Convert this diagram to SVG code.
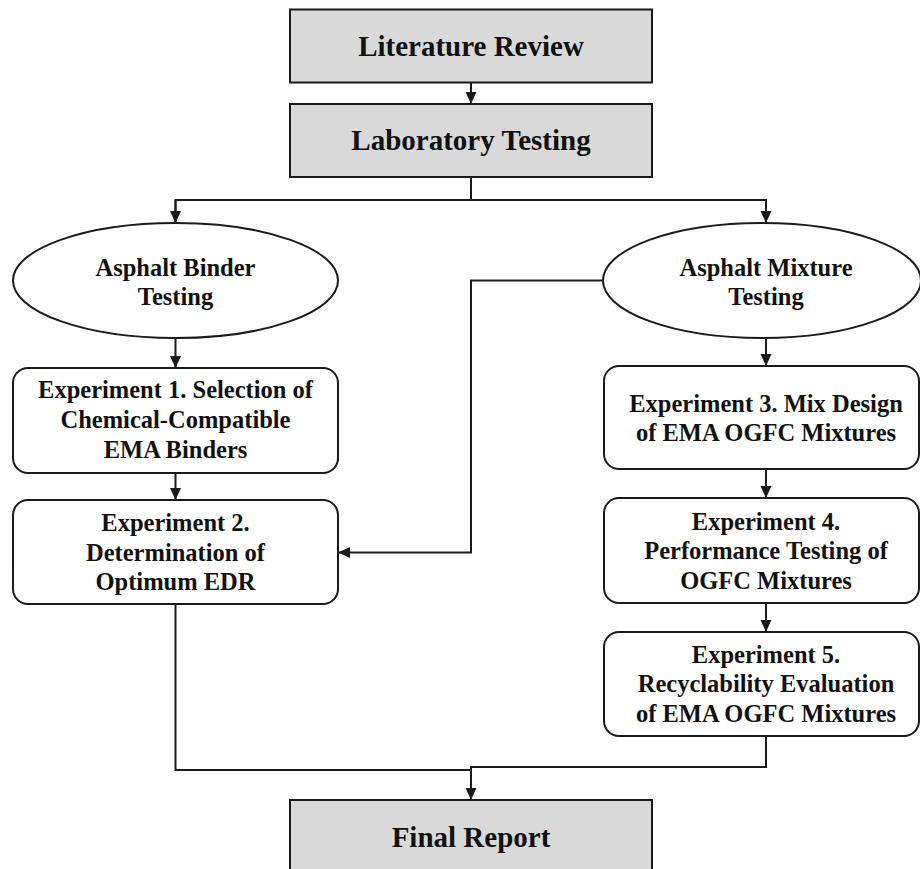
<svg xmlns="http://www.w3.org/2000/svg" width="920" height="869" viewBox="0 0 920 869">
<style>
.box{fill:#d9d9d9;stroke:#1a1a1a;stroke-width:2}
.rbox{fill:#ffffff;stroke:#1a1a1a;stroke-width:2}
.ell{fill:#ffffff;stroke:#1a1a1a;stroke-width:2}
.conn{fill:none;stroke:#1a1a1a;stroke-width:2}
.t{font-family:"Liberation Serif","Times New Roman",serif;font-weight:bold;fill:#111;text-anchor:middle}
.big{font-size:29px}
.sm{font-size:24.5px}
</style>
<defs>
<marker id="arr" markerUnits="userSpaceOnUse" markerWidth="12" markerHeight="12" viewBox="0 0 12 12" refX="12" refY="6" orient="auto">
<path d="M0,0.5 L12,6 L0,11.5 Z" fill="#1a1a1a"/>
</marker>
</defs>
<rect width="920" height="869" fill="#ffffff"/>
<g id="connectors">
<path class="conn" d="M471,82.5 V104" marker-end="url(#arr)"/>
<path class="conn" d="M471,177 V200"/>
<path class="conn" d="M175.5,223 V200 H766 V223" />
<path class="conn" d="M175.5,200 V223" marker-end="url(#arr)"/>
<path class="conn" d="M766,200 V223" marker-end="url(#arr)"/>
<path class="conn" d="M175.5,338 V368" marker-end="url(#arr)"/>
<path class="conn" d="M175.5,473 V500" marker-end="url(#arr)"/>
<path class="conn" d="M603,280.5 H471 V552.5 H338" marker-end="url(#arr)"/>
<path class="conn" d="M766,338 V366" marker-end="url(#arr)"/>
<path class="conn" d="M766,469 V498" marker-end="url(#arr)"/>
<path class="conn" d="M766,603 V632" marker-end="url(#arr)"/>
<path class="conn" d="M175.5,604 V770 H471"/>
<path class="conn" d="M766,736 V767 H471 V800" marker-end="url(#arr)"/>
</g>
<g id="literature-review">
<rect class="box" x="290" y="9.5" width="362" height="73"/>
<text class="t big" x="471" y="56">Literature Review</text>
</g>
<g id="laboratory-testing">
<rect class="box" x="290" y="104" width="362" height="73"/>
<text class="t big" x="471" y="150">Laboratory Testing</text>
</g>
<g id="asphalt-binder-testing">
<ellipse class="ell" cx="175.5" cy="280.5" rx="162.5" ry="57.5"/>
<text class="t sm" x="175.5" y="276">Asphalt Binder</text>
<text class="t sm" x="175.5" y="305">Testing</text>
</g>
<g id="asphalt-mixture-testing">
<ellipse class="ell" cx="762" cy="280.5" rx="159" ry="57.5"/>
<text class="t sm" x="766" y="276">Asphalt Mixture</text>
<text class="t sm" x="766" y="305">Testing</text>
</g>
<g id="experiment-1">
<rect class="rbox" x="13" y="368" width="325" height="105" rx="15"/>
<text class="t sm" x="175.5" y="398">Experiment 1. Selection of</text>
<text class="t sm" x="175.5" y="428">Chemical-Compatible</text>
<text class="t sm" x="175.5" y="458">EMA Binders</text>
</g>
<g id="experiment-2">
<rect class="rbox" x="13" y="500" width="325" height="104" rx="15"/>
<text class="t sm" x="175.5" y="531">Experiment 2.</text>
<text class="t sm" x="175.5" y="561">Determination of</text>
<text class="t sm" x="175.5" y="590">Optimum EDR</text>
</g>
<g id="experiment-3">
<rect class="rbox" x="604" y="366" width="315" height="103" rx="15"/>
<text class="t sm" x="766" y="412">Experiment 3. Mix Design</text>
<text class="t sm" x="766" y="441">of EMA OGFC Mixtures</text>
</g>
<g id="experiment-4">
<rect class="rbox" x="604" y="498" width="315" height="105" rx="15"/>
<text class="t sm" x="766" y="530">Experiment 4.</text>
<text class="t sm" x="766" y="559">Performance Testing of</text>
<text class="t sm" x="766" y="589">OGFC Mixtures</text>
</g>
<g id="experiment-5">
<rect class="rbox" x="604" y="632" width="315" height="104" rx="15"/>
<text class="t sm" x="766" y="663">Experiment 5.</text>
<text class="t sm" x="766" y="692">Recyclability Evaluation</text>
<text class="t sm" x="766" y="722">of EMA OGFC Mixtures</text>
</g>
<g id="final-report">
<rect class="box" x="290" y="800" width="362" height="73"/>
<text class="t big" x="471" y="847">Final Report</text>
</g>
</svg>
